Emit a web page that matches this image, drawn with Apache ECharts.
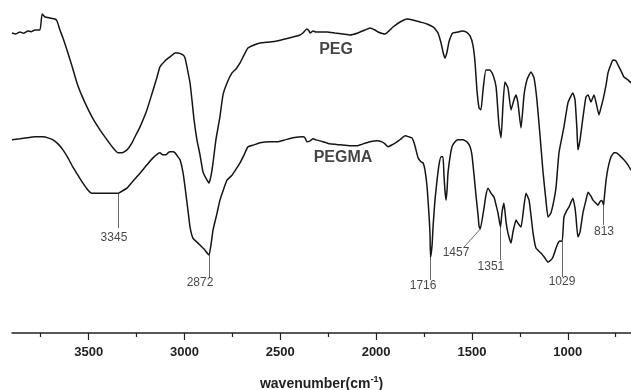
<!DOCTYPE html>
<html><head><meta charset="utf-8">
<script src="https://cdn.jsdelivr.net/npm/echarts@6/dist/echarts.min.js"></script>
<style>html,body{margin:0;padding:0;background:#fff}#c{width:631px;height:390px}</style>
</head><body><div id="c"></div>
<script>
// PEG spectrum: wavenumber (cm-1) and transmittance (a.u.)
const pegWavenumber = [3900,3880,3858,3840,3817,3800,3780,3754,3743,3728,3702,3676,3665,3650,3634,3613,3587,3561,3535,3509,3477,3441,3404,3373,3347,3326,3300,3274,3248,3232,3196,3170,3143,3128,3102,3076,3049,3034,3008,2997,2987,2971,2961,2950,2935,2919,2903,2888,2872,2862,2851,2836,2815,2799,2778,2752,2731,2710,2689,2669,2637,2606,2554,2517,2475,2434,2397,2382,2361,2350,2345,2329,2314,2293,2256,2215,2173,2136,2095,2058,2032,2006,1990,1954,1928,1912,1875,1839,1808,1771,1734,1703,1688,1677,1661,1651,1641,1630,1620,1609,1599,1573,1552,1531,1510,1495,1484,1474,1463,1453,1442,1427,1406,1390,1374,1359,1348,1338,1328,1312,1296,1281,1270,1260,1244,1228,1213,1192,1176,1161,1145,1129,1114,1103,1088,1072,1061,1046,1030,1020,999,983,973,962,952,947,936,921,905,894,879,863,853,837,827,816,800,790,774,764,748,738,722,707,686,670];
const pegT = [90.1,89.8,90.4,90.0,90.7,90.5,91.0,91.0,95.8,94.9,94.6,94.3,93.7,91.0,88.6,85.0,80.2,75.1,71.2,67.9,64.3,61.0,58.0,55.6,54.1,54.1,55.0,57.1,60.1,61.9,67.0,71.8,76.9,79.9,81.7,82.9,84.1,84.1,83.5,82.6,79.9,75.1,70.0,64.0,58.0,53.5,48.3,46.5,45.0,47.1,51.1,58.0,64.9,71.5,75.1,78.1,79.3,81.1,83.5,85.6,86.5,87.1,87.4,87.7,88.3,88.9,89.5,90.1,91.3,90.7,90.1,90.7,90.4,90.4,90.4,90.1,89.8,89.5,90.1,91.0,91.6,91.0,90.4,89.8,91.0,91.9,93.4,94.3,94.0,93.4,92.8,91.9,91.0,90.1,87.1,84.4,82.6,84.4,87.4,89.2,90.1,90.4,90.7,90.4,89.2,86.5,81.4,73.0,67.6,67.0,73.0,79.0,79.0,77.5,73.9,62.5,58.6,68.5,75.4,73.6,67.0,70.0,71.5,69.1,61.6,71.5,76.0,78.4,76.6,70.0,59.5,48.3,39.9,34.8,36.0,39.9,43.8,54.1,58.9,61.9,69.1,71.2,72.1,70.0,61.0,55.0,58.0,64.6,70.9,71.5,69.4,71.5,69.4,65.5,67.6,70.0,74.5,78.1,80.8,82.0,81.7,80.5,78.7,76.9,76.0,75.1];

// PEGMA spectrum
const pegmaWavenumber = [3900,3858,3822,3780,3738,3712,3686,3660,3634,3608,3582,3556,3530,3503,3483,3441,3389,3345,3326,3300,3269,3232,3196,3164,3128,3112,3096,3086,3076,3060,3049,3034,3023,3008,2997,2982,2971,2956,2935,2919,2898,2872,2862,2851,2830,2815,2794,2778,2752,2731,2710,2689,2669,2637,2606,2554,2517,2475,2434,2382,2371,2361,2345,2329,2314,2293,2241,2188,2136,2100,2068,2032,1995,1969,1954,1938,1917,1891,1870,1849,1828,1813,1802,1792,1781,1766,1755,1745,1734,1724,1719,1716,1708,1703,1693,1682,1672,1661,1651,1646,1641,1635,1630,1625,1615,1604,1588,1573,1547,1526,1510,1500,1489,1479,1468,1463,1457,1437,1427,1416,1401,1385,1374,1364,1351,1343,1333,1322,1312,1296,1286,1270,1260,1244,1228,1218,1202,1192,1181,1166,1140,1119,1103,1088,1077,1061,1051,1041,1029,1020,1004,994,983,973,962,957,947,936,921,905,894,879,868,853,842,830,822,813,808,800,790,774,759,748,727,707,686,670];
const pegmaT = [58.0,58.3,58.6,58.9,58.9,58.6,58.0,56.8,55.0,52.6,49.8,47.4,45.0,42.9,42.0,42.0,42.0,42.0,42.6,43.5,45.6,48.0,50.5,52.6,54.1,53.5,53.5,54.1,54.4,54.4,54.1,52.9,52.0,48.3,43.8,36.9,31.8,28.5,27.3,26.4,25.2,23.4,26.4,30.9,36.0,39.9,43.5,45.9,47.4,49.2,51.1,53.5,55.9,56.5,57.1,57.4,57.4,58.0,58.6,58.9,58.6,57.4,57.7,58.3,58.0,57.7,56.8,56.5,56.2,56.2,56.8,57.4,57.7,57.4,56.8,55.9,56.5,57.4,58.3,59.2,58.9,58.6,57.1,55.0,52.6,51.4,51.1,48.9,43.8,35.4,30.0,22.8,26.4,31.8,39.9,45.9,50.5,52.9,52.9,47.4,42.9,39.9,42.9,48.0,52.6,55.9,57.4,58.0,58.0,57.4,55.9,53.5,47.4,41.4,35.4,32.1,31.2,37.5,41.4,43.5,42.0,40.8,38.4,36.0,31.8,36.3,39.0,33.3,30.0,27.0,30.3,33.9,33.0,31.8,38.4,42.0,39.9,35.4,30.0,25.5,24.0,22.5,21.3,21.9,22.8,25.5,27.0,27.6,27.5,34.8,36.9,37.8,39.3,40.5,37.5,34.8,28.8,30.3,36.0,39.9,42.3,41.1,39.9,39.0,38.4,39.6,39.8,38.5,41.4,45.9,49.5,52.9,54.1,54.1,53.2,52.0,50.5,48.9];

// x-axis ticks
const majorTicks = [3500, 3000, 2500, 2000, 1500, 1000];
const minorTicks = [3750, 3250, 2750, 2250, 1750, 1250, 750];

// Peak annotations (PEGMA)
const peakWavenumbers = [3345, 2872, 1716, 1457, 1351, 1029, 813];
const peakLineStart = [42.0, 23.4, 22.8, 31.2, 31.8, 27.5, 38.5];
const peakLineEndWavenumber = [3345, 2872, 1716, 1541, 1351, 1029, 813];
const peakLineEnd = [31.5, 16.5, 15.9, 25.8, 21.9, 16.8, 32.4];
const peakLabelWavenumber = [3368, 2919, 1755, 1583, 1401, 1030, 811];
const peakLabelLevel = [28.5, 15.0, 14.1, 24.0, 19.8, 15.3, 30.3];

// Series names and their label anchors
const seriesNames = ['PEG', 'PEGMA'];
const seriesLabelWavenumber = [2209, 2173];
const seriesLabelLevel = [85.0, 52.6];

const FONT = '"Liberation Sans", Arial, sans-serif';
const zip = (a, b) => a.map((v, i) => [v, b[i]]);

const chart = echarts.init(document.getElementById('c'), null, {renderer: 'canvas'});
const xCommon = {type: 'value', min: 670, max: 3900, inverse: true, position: 'bottom', offset: 0, splitLine: {show: false}};
chart.setOption({
  animation: false,
  backgroundColor: '#fff',
  grid: {left: 12, right: 0, top: 0, bottom: 57, containLabel: false, outerBoundsMode: 'none'},
  xAxis: [
    Object.assign({}, xCommon, {
      axisLine: {show: true, lineStyle: {color: '#222', width: 1.5}},
      axisTick: {show: true, inside: false, length: 7, customValues: majorTicks, lineStyle: {color: '#222', width: 1.2}},
      axisLabel: {show: true, customValues: majorTicks, formatter: v => String(v), margin: 13, color: '#222', fontFamily: FONT, fontSize: 13, fontWeight: 'bold'},
      name: '{a|wavenumber(cm}{s|-1}{a|)}',
      nameLocation: 'middle',
      nameGap: 42,
      nameTextStyle: {
        color: '#222', fontFamily: FONT,
        rich: {
          a: {fontFamily: FONT, fontSize: 14, fontWeight: 'bold', color: '#222'},
          s: {fontFamily: FONT, fontSize: 9, fontWeight: 'bold', color: '#222', padding: [0, 0, 9, 0]}
        }
      }
    }),
    Object.assign({}, xCommon, {
      axisLine: {show: false},
      axisTick: {show: true, length: 4, customValues: minorTicks, lineStyle: {color: '#222', width: 1.2}},
      axisLabel: {show: false}
    })
  ],
  yAxis: {type: 'value', min: 0, max: 100, show: false},
  series: [
    {name: 'PEG', type: 'line', data: zip(pegWavenumber, pegT), showSymbol: false, smooth: 0.15,
     lineStyle: {color: '#151515', width: 1.5}},
    {name: 'PEGMA', type: 'line', data: zip(pegmaWavenumber, pegmaT), showSymbol: false, smooth: 0.15,
     lineStyle: {color: '#151515', width: 1.5}},
    {type: 'lines', coordinateSystem: 'cartesian2d', polyline: false, silent: true,
     lineStyle: {color: '#6a6a6a', width: 1, opacity: 1},
     data: peakWavenumbers.map((w, i) => ({coords: [[w, peakLineStart[i]], [peakLineEndWavenumber[i], peakLineEnd[i]]]}))},
    {type: 'scatter', symbolSize: 0, silent: true,
     label: {show: true, position: 'inside', color: '#151515', fontFamily: FONT, fontSize: 12,
             formatter: p => String(p.data[2])},
     data: peakWavenumbers.map((w, i) => [peakLabelWavenumber[i], peakLabelLevel[i], w])},
    {type: 'scatter', symbolSize: 0, silent: true,
     label: {show: true, position: 'inside', color: '#151515', fontFamily: FONT, fontSize: 16, fontWeight: 'bold',
             formatter: p => p.data[2]},
     data: seriesNames.map((n, i) => [seriesLabelWavenumber[i], seriesLabelLevel[i], n])}
  ]
});
</script></body></html>
